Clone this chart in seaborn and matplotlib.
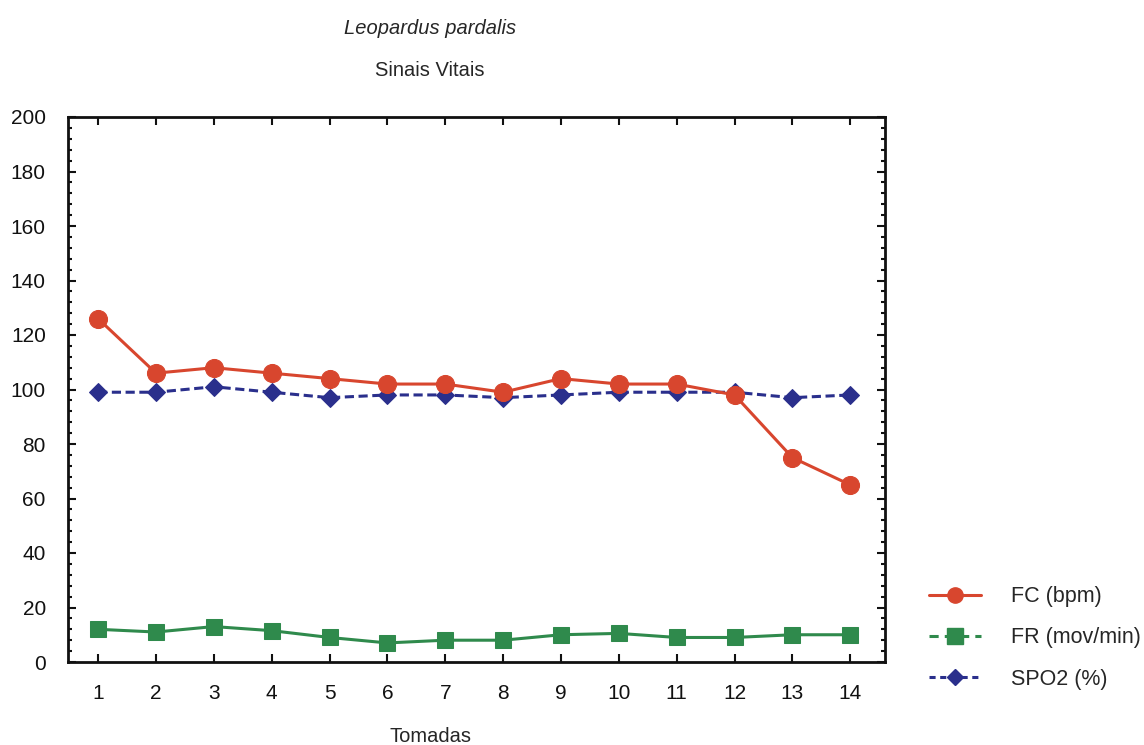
import matplotlib
matplotlib.use("Agg")
import matplotlib.pyplot as plt
from matplotlib.lines import Line2D
from matplotlib.ticker import MultipleLocator
import seaborn as sns
import pandas as pd

tomadas = list(range(1, 15))
fc = [126, 106, 108, 106, 104, 102, 102, 99, 104, 102, 102, 98, 75, 65]
fr = [12, 11, 13, 11.5, 9, 7, 8, 8, 10, 10.5, 9, 9, 10, 10]
spo2 = [99, 99, 101, 99, 97, 98, 98, 97, 98, 99, 99, 99, 97, 98]
labels = ["FC (bpm)", "FR (mov/min)", "SPO2 (%)"]

sns.set_theme(style="white")
plt.rcParams['font.family'] = ['Liberation Sans', 'DejaVu Sans']

fig = plt.figure(figsize=(11.44, 7.45), dpi=100)
ax = fig.add_axes([68/1144, 1-662/745, (885-68)/1144, (662-117)/745])

red = "#d8462e"
green = "#2f8a4c"
navy = "#2a2f8c"

df = pd.DataFrame({"x": tomadas, "fc": fc, "fr": fr, "spo2": spo2})

sns.lineplot(data=df, x="x", y="spo2", ax=ax, color=navy, linestyle=(0, (3, 1.5)),
             linewidth=2.2, marker="D", markersize=9, markeredgecolor=navy, markerfacecolor=navy)
sns.lineplot(data=df, x="x", y="fc", ax=ax, color=red, linewidth=2.2,
             marker="o", markersize=13, markeredgecolor=red, markerfacecolor=red)
sns.lineplot(data=df, x="x", y="fr", ax=ax, color=green, linewidth=2.2,
             marker="s", markersize=12, markeredgecolor=green, markerfacecolor=green)

ax.set_xlim(0.48, 14.6)
ax.set_ylim(0, 200)
ax.set_xticks(tomadas)
ax.set_yticks(range(0, 201, 20))
ax.yaxis.set_minor_locator(MultipleLocator(4))
ax.tick_params(axis='both', which='both', direction='in', top=True, right=True,
               left=True, bottom=True, labelsize=15, colors='#111111', width=1.5)
ax.tick_params(axis='both', which='major', length=6)
ax.tick_params(axis='y', which='major', pad=16)
ax.tick_params(axis='x', which='major', pad=16)
ax.tick_params(axis='y', which='minor', length=3)
for s in ax.spines.values():
    s.set_color('#111111')
    s.set_linewidth(2)
ax.set_xlabel("")
ax.set_ylabel("")

fig.text(430/1144, 1-28/745, "Leopardus pardalis", style='italic', ha='center', va='center', fontsize=14.5)
fig.text(430/1144, 1-70/745, "Sinais Vitais", ha='center', va='center', fontsize=14.5)
fig.text(430/1144, 1-737/745, "Tomadas", ha='center', va='center', fontsize=14.5)

handles = [
    Line2D([], [], color=red, linewidth=2.2, marker='o', markersize=11),
    Line2D([], [], color=green, linewidth=2.2, linestyle=(0, (3, 2)), marker='s', markersize=11),
    Line2D([], [], color=navy, linewidth=2.2, linestyle=(0, (2, 1.5)), marker='D', markersize=8),
]
fig.legend(handles, labels, loc='center left', bbox_to_anchor=(910/1144, 1-638/745),
           frameon=False, fontsize=15.5, labelspacing=0.95, handlelength=2.4, handletextpad=1.4)

fig.savefig("out.png", dpi=100)
